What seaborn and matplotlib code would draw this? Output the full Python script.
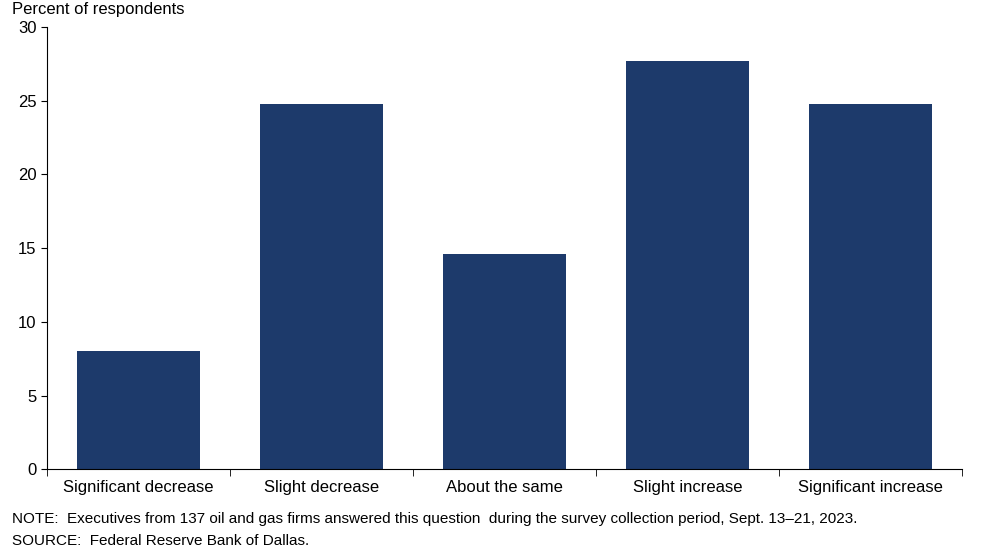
import matplotlib
matplotlib.use("Agg")
import matplotlib.pyplot as plt
import seaborn as sns
import pandas as pd

categories = ["Significant decrease", "Slight decrease", "About the same",
              "Slight increase", "Significant increase"]
percents = [8.0, 24.8, 14.6, 27.7, 24.8]

df = pd.DataFrame({"category": categories, "percent": percents})

plt.rcParams["font.family"] = "Liberation Sans"
fig = plt.figure(figsize=(9.97, 5.52), dpi=100)
ax = fig.add_axes([0.047, 0.150, 0.918, 0.801])

sns.barplot(data=df, x="category", y="percent", color="#1d3a6b",
            saturation=1, width=0.67, ax=ax)

ax.set_ylim(0, 30)
ax.set_yticks(range(0, 31, 5))
ax.set_xlim(-0.5, 4.5)
ax.set_xlabel("")
ax.set_ylabel("")
for s in ["top", "right"]:
    ax.spines[s].set_visible(False)
ax.tick_params(axis="y", labelsize=12, direction="out", length=4)
ax.tick_params(axis="x", labelsize=12, length=4)
ax.set_xticks([x - 0.5 for x in range(6)], minor=True)
ax.tick_params(axis="x", which="major", length=0, pad=8)
ax.tick_params(axis="x", which="minor", length=5)

fig.text(0.012, 0.975, "Percent of respondents", fontsize=12)
fig.text(0.012, 0.052, "NOTE:  Executives from 137 oil and gas firms answered this question  during the survey collection period, Sept. 13–21, 2023.",
         fontsize=11)
fig.text(0.012, 0.012, "SOURCE:  Federal Reserve Bank of Dallas.", fontsize=11)

fig.savefig("out.png", dpi=100)
